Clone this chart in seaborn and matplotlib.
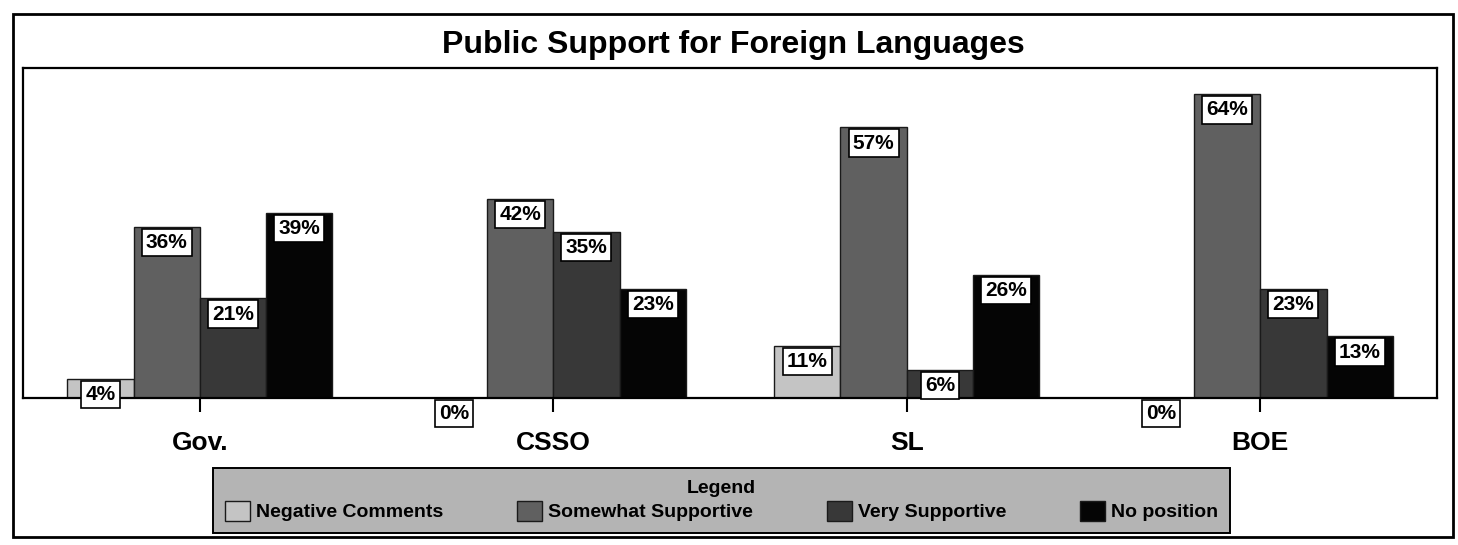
import matplotlib
matplotlib.use("Agg")
import matplotlib.pyplot as plt
from matplotlib.patches import Rectangle
import pandas as pd
import seaborn as sns

GRUPOS = ["Gov.", "CSSO", "SL", "BOE"]
SERIES = ["Negative Comments", "Somewhat Supportive", "Very Supportive", "No position"]
NEGATIVE = [4, 0, 11, 0]
SOMEWHAT = [36, 42, 57, 64]
VERY = [21, 35, 6, 23]
NO_POSITION = [39, 23, 26, 13]
CORES = ["#c4c4c4", "#606060", "#383838", "#050505"]

sns.set_style("white")
plt.rcParams["font.family"] = ["Liberation Sans", "DejaVu Sans"]
plt.rcParams["text.color"] = "black"
plt.rcParams["xtick.color"] = "black"
plt.rcParams["xtick.labelcolor"] = "black"

valores = [NEGATIVE, SOMEWHAT, VERY, NO_POSITION]
df = pd.DataFrame(
    [(g, s, v[i]) for s, v in zip(SERIES, valores) for i, g in enumerate(GRUPOS)],
    columns=["grupo", "serie", "valor"],
)

fig = plt.figure(figsize=(14.58, 5.45), dpi=100)
ax = fig.add_axes([0.0158, 0.2697, 0.9698, 0.6055])

sns.barplot(data=df, x="grupo", y="valor", hue="serie", hue_order=SERIES,
            order=GRUPOS, palette=CORES, width=0.75, edgecolor="#1a1a1a",
            linewidth=1, errorbar=None, ax=ax)

# rótulos em caixas brancas no topo de cada barra
for cont in ax.containers:
    for barra in cont:
        h = barra.get_height()
        ax.annotate(f"{h:.0f}%", (barra.get_x() + barra.get_width() / 2, h),
                    xytext=(0, -4.5), textcoords="offset points",
                    ha="center", va="top", fontsize=15, fontweight="bold",
                    clip_on=False, annotation_clip=False,
                    bbox=dict(boxstyle="square,pad=0.2", fc="white",
                              ec="black", lw=1.2))

handles, labels = ax.get_legend_handles_labels()
ax.get_legend().remove()

ax.set_xlim(-0.5, 3.5)
ax.set_ylim(0, 69.5)
ax.set_yticks([])
ax.set_xlabel("")
ax.set_ylabel("")
ax.tick_params(axis="x", length=10, width=1.5, direction="out", pad=14,
               labelsize=19, color="black", bottom=True)
for lbl in ax.get_xticklabels():
    lbl.set_fontweight("bold")
for sp in ax.spines.values():
    sp.set_color("black")
    sp.set_linewidth(1.6)

fig.text(0.503, 0.918, "Public Support for Foreign Languages", ha="center",
         va="center", fontsize=23, fontweight="bold")

leg = fig.legend(handles, labels, loc="lower left", ncol=4, mode="expand",
                 bbox_to_anchor=(213 / 1458, 0.022, 1017 / 1458, 0.13),
                 title="Legend", fontsize=14, handlelength=1.3,
                 handleheight=1.25, handletextpad=0.3, borderaxespad=0,
                 fancybox=False, framealpha=1, borderpad=0.6,
                 labelspacing=0.2)
leg.get_title().set_fontweight("bold")
leg.get_title().set_fontsize(14)
for t in leg.get_texts():
    t.set_fontweight("bold")
frame = leg.get_frame()
frame.set_facecolor("#b4b4b4")
frame.set_edgecolor("black")
frame.set_linewidth(1.4)

fig.patches.append(Rectangle((13 / 1458, 8 / 545), 1440 / 1458, 523 / 545,
                             transform=fig.transFigure, fill=False,
                             ec="black", lw=2))

fig.savefig("out.png", dpi=100)
